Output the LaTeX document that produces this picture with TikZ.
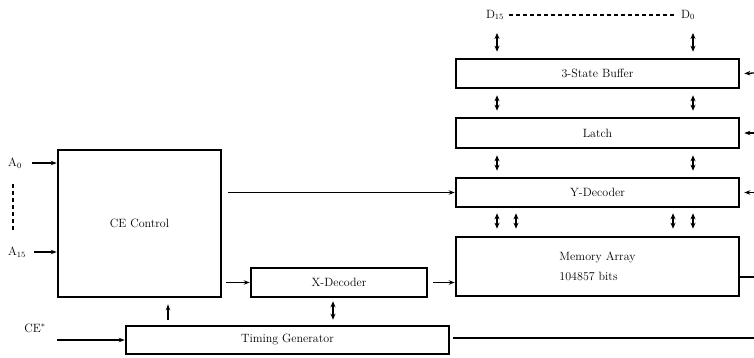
\documentclass[tikz,border=0pt]{standalone}
\usetikzlibrary{arrows.meta}
\begin{document}
\begin{tikzpicture}[x=1pt,y=-1pt,
  box/.style={draw, line width=2.6pt, rectangle, inner sep=0pt, font=\fontsize{12}{14}\selectfont},
  lbl/.style={inner sep=1pt, font=\fontsize{12}{14}\selectfont},
  ar/.style={line width=1.3pt, -{Stealth[length=6pt,width=4.5pt]}},
  dar/.style={line width=1.5pt, {Stealth[length=6pt,width=5pt]}-{Stealth[length=6pt,width=5pt]}},
  dsh/.style={line width=1.5pt, dash pattern=on 4pt off 3pt}]
\useasboundingbox (0,0) rectangle (754,358);

% boxes
\node[box, minimum width=163pt, minimum height=147pt] (ce) at (139.5,223.5) {CE Control};
\node[box, minimum width=176pt, minimum height=29pt] (xdec) at (339,282.5) {X-Decoder};
\node[box, minimum width=323pt, minimum height=28pt] (tg) at (287.5,340) {Timing Generator};
\node[box, minimum width=283pt, minimum height=29pt] (buf) at (597.5,73.5) {3-State Buffer};
\node[box, minimum width=283pt, minimum height=30pt] (latch) at (597.5,133) {Latch};
\node[box, minimum width=283pt, minimum height=29pt] (ydec) at (597.5,192.5) {Y-Decoder};
\node[box, minimum width=283pt, minimum height=59pt, align=left, font=\fontsize{12}{20}\selectfont] (mem) at (597.5,266.5) {Memory Array\\104857 bits};

% labels
\node[lbl] (a0) at (15,163) {A$_0$};
\node[lbl] (a15) at (17,252) {A$_{15}$};
\node[lbl] (ces) at (35,328) {CE$^*$};
\node[lbl] (d15) at (495,15) {D$_{15}$};
\node[lbl] (d0) at (688,15) {D$_0$};

% coordinates
\coordinate (cL) at (497,0);
\coordinate (cL2) at (516,0);
\coordinate (cR1) at (673,0);
\coordinate (cR) at (693,0);
\coordinate (dtop) at (0,33);
\coordinate (a0s) at (32,163);
\coordinate (a15s) at (34,252);
\coordinate (cein) at (57,340);
\coordinate (tge) at (754,338);
\coordinate (bufr) at (754,73);
\coordinate (latr) at (754,133);
\coordinate (ydecr) at (754,192.5);
\coordinate (memr) at (754,277);
\coordinate (tgx) at (168,0);
\coordinate (xdx) at (333,0);

% dashed hints
\draw[dsh] ([xshift=4pt]d15.east) -- ([xshift=-4pt]d0.west);
\draw[dsh] (13,184) -- (13,231);

% inputs on the left
\draw[ar] (a0s) -- (ce.west |- a0s);
\draw[ar] (a15s) -- (ce.west |- a15s);
\draw[ar] (cein) -- (tg.west |- cein);

% CE control outputs
\draw[ar] ([xshift=6pt]ce.east |- ydec.west) -- (ydec.west);
\draw[ar] ([xshift=4pt]ce.east |- xdec.west) -- (xdec.west);
\draw[ar] ([xshift=5pt]xdec.east) -- (mem.west |- xdec.east);

% timing generator
\draw[ar] ([yshift=5pt]tg.north -| tgx) -- ([yshift=-6pt]ce.south -| tgx);
\draw[dar] ([yshift=5pt]tg.north -| xdx) -- ([yshift=-3pt]xdec.south -| xdx);
\draw[line width=1.5pt] ([xshift=3pt]tg.east |- tge) -- (tge);

% data bus arrows
\draw[dar] (cL |- dtop) -- ([yshift=6pt]buf.north -| cL);
\draw[dar] (cR |- dtop) -- ([yshift=6pt]buf.north -| cR);
\draw[dar] ([yshift=-6pt]buf.south -| cL) -- ([yshift=6pt]latch.north -| cL);
\draw[dar] ([yshift=-6pt]buf.south -| cR) -- ([yshift=6pt]latch.north -| cR);
\draw[dar] ([yshift=-6pt]latch.south -| cL) -- ([yshift=6pt]ydec.north -| cL);
\draw[dar] ([yshift=-6pt]latch.south -| cR) -- ([yshift=6pt]ydec.north -| cR);
\draw[dar] ([yshift=-5pt]ydec.south -| cL) -- ([yshift=7pt]mem.north -| cL);
\draw[dar] ([yshift=-5pt]ydec.south -| cL2) -- ([yshift=7pt]mem.north -| cL2);
\draw[dar] ([yshift=-5pt]ydec.south -| cR1) -- ([yshift=7pt]mem.north -| cR1);
\draw[dar] ([yshift=-5pt]ydec.south -| cR) -- ([yshift=7pt]mem.north -| cR);

% right-hand stubs
\draw[ar] (bufr) -- ([xshift=4pt]buf.east);
\draw[ar] (latr) -- ([xshift=4pt]latch.east);
\draw[ar] (ydecr) -- ([xshift=4pt]ydec.east);
\draw[line width=1.5pt] (mem.east |- memr) -- (memr);
\end{tikzpicture}
\end{document}
